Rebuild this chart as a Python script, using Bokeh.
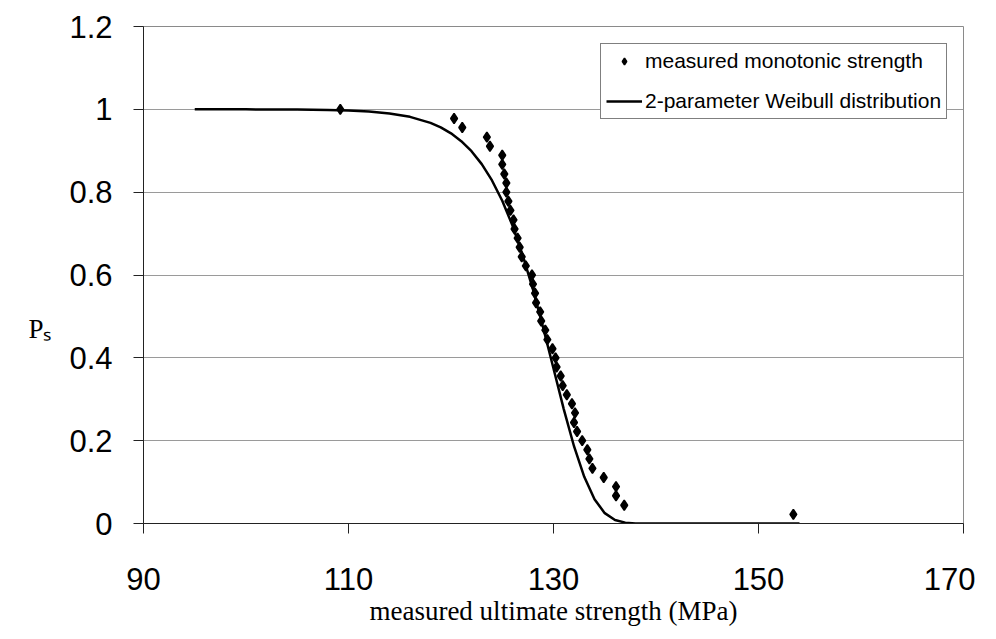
from bokeh.plotting import figure
from bokeh.models import Range1d, FixedTicker, Legend, LegendItem
from bokeh.embed import file_html
from bokeh.resources import INLINE

strength = [109.2, 120.3, 121.1, 123.5, 123.8, 125.0, 125.0, 125.2, 125.4, 125.4,
            125.6, 125.8, 126.1, 126.2, 126.5, 126.7, 126.9, 127.3, 127.9, 128.0,
            128.2, 128.3, 128.7, 128.8, 129.2, 129.4, 129.9, 130.2, 130.3, 130.7,
            130.9, 131.3, 131.8, 132.1, 132.0, 132.3, 132.8, 133.3, 133.5, 133.8,
            134.9, 136.1, 136.1, 136.9, 153.4]
ps_measured = [1.000, 0.978, 0.956, 0.933, 0.911, 0.889, 0.867, 0.844, 0.822, 0.800,
               0.778, 0.756, 0.733, 0.711, 0.689, 0.667, 0.644, 0.622, 0.600, 0.578,
               0.556, 0.533, 0.511, 0.489, 0.467, 0.444, 0.422, 0.400, 0.378, 0.356,
               0.333, 0.311, 0.289, 0.267, 0.244, 0.222, 0.200, 0.178, 0.156, 0.133,
               0.111, 0.089, 0.067, 0.044, 0.022]

# 2-parameter Weibull curve (tabulated)
fit_strength = [95, 100, 105, 108, 110, 112, 114, 116, 118, 119, 120, 121, 122, 123,
                124, 125, 126, 127, 128, 129, 130, 131, 132, 133, 134, 135, 136, 137,
                138, 140, 145, 150, 154]
fit_ps = [1.000, 0.9999, 0.9994, 0.9985, 0.9972, 0.9947, 0.9901, 0.9819, 0.9673, 0.9565,
          0.9420, 0.9232, 0.8990, 0.8677, 0.8283, 0.7794, 0.7192, 0.6474, 0.5648, 0.4721,
          0.3743, 0.2762, 0.1866, 0.1127, 0.0586, 0.0250, 0.0084, 0.0021, 0.0003, 0.0,
          0.0, 0.0, 0.0]

x_ticks = [90, 110, 130, 150, 170]
y_ticks = [0, 0.2, 0.4, 0.6, 0.8, 1, 1.2]
y_tick_labels = ["0", "0.2", "0.4", "0.6", "0.8", "1", "1.2"]

p = figure(width=975, height=631, x_range=Range1d(90, 170), y_range=Range1d(0, 1.2),
           output_backend="svg", toolbar_location=None,
           min_border_left=143, min_border_top=26, min_border_right=12,
           min_border_bottom=108)
p.background_fill_color = "white"
p.border_fill_color = "white"
p.outline_line_color = "#8a8a8a"
p.outline_line_width = 1

p.xgrid.visible = False
p.ygrid.grid_line_color = "#9a9a9a"
p.ygrid.grid_line_width = 1

p.xaxis.ticker = FixedTicker(ticks=x_ticks)
p.yaxis.ticker = FixedTicker(ticks=y_ticks)
p.yaxis.major_label_overrides = dict(zip(y_ticks, y_tick_labels))

for ax in (p.xaxis[0], p.yaxis[0]):
    ax.axis_line_color = "#222222"
    ax.axis_line_width = 1
    ax.major_tick_line_color = "#222222"
    ax.major_tick_out = 10
    ax.major_tick_in = 0
    ax.minor_tick_out = 0
    ax.minor_tick_in = 0
    ax.major_label_text_font = "Liberation Sans"
    ax.major_label_text_font_size = "31px"
    ax.major_label_text_color = "black"
    ax.axis_label_text_font = "Liberation Serif"
    ax.axis_label_text_font_size = "27px"
    ax.axis_label_text_font_style = "normal"
    ax.axis_label_text_color = "black"

p.yaxis.major_label_standoff = 21
p.xaxis.major_label_standoff = 34
p.xaxis.axis_label = "measured ultimate strength (MPa)"
p.xaxis.axis_label_standoff = 3
p.yaxis.axis_label = "\n\n\nPₛ"
p.yaxis.axis_label_orientation = "horizontal"
p.yaxis.axis_label_standoff = 15

line = p.line(fit_strength, fit_ps, line_color="black", line_width=2.5)
pts = p.scatter(strength, ps_measured, marker="diamond", size=10, line_width=1.6,
                fill_color="black", line_color="black")

legend = Legend(items=[LegendItem(label="measured monotonic strength", renderers=[pts]),
                       LegendItem(label="2-parameter Weibull distribution", renderers=[line])],
                location=(457, 404))
legend.label_text_font = "Liberation Sans"
legend.label_text_font_size = "21px"
legend.label_text_color = "black"
legend.glyph_width = 36
legend.glyph_height = 16
legend.label_height = 20
legend.spacing = 16
legend.padding = 5
legend.margin = 0
legend.label_standoff = 3
legend.border_line_color = "black"
legend.border_line_width = 1
legend.background_fill_color = "white"
legend.background_fill_alpha = 1.0
p.add_layout(legend)

open("out.html", "w").write(file_html(p, INLINE))
